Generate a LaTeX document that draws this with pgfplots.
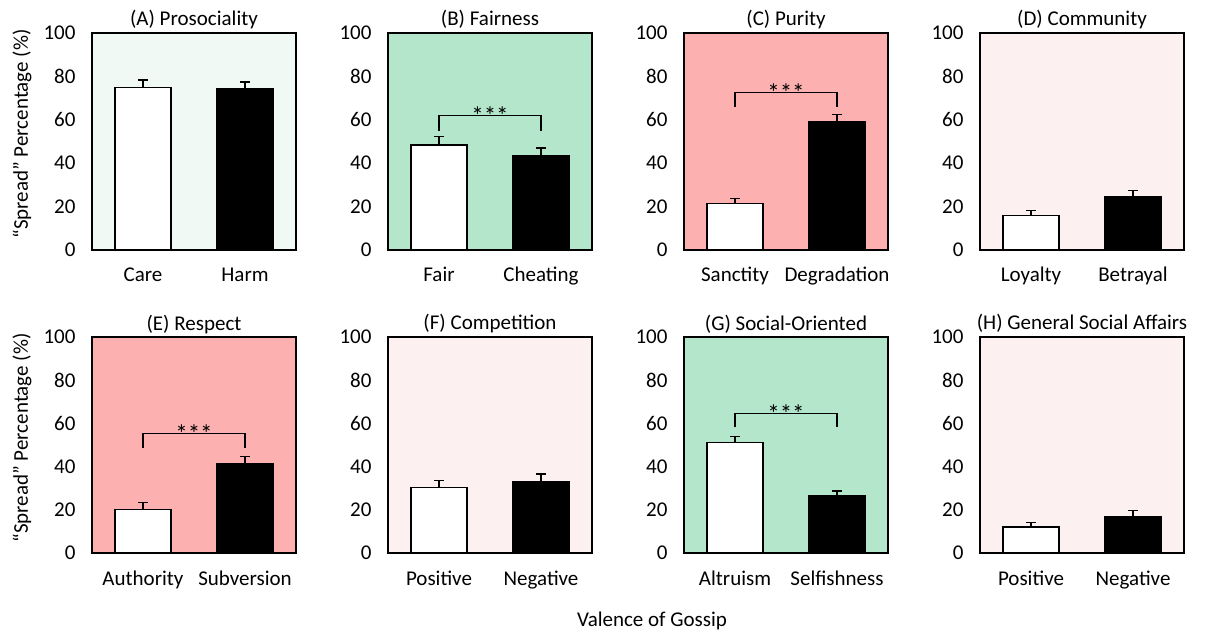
\documentclass[border=0pt]{standalone}
\usepackage{pgfplots}
\pgfplotsset{compat=1.18}
\usepackage{fontspec}
\setmainfont{Carlito}

\definecolor{bgmint}{RGB}{241,249,245}
\definecolor{bggreen}{RGB}{180,230,204}
\definecolor{bgrose}{RGB}{252,176,176}
\definecolor{bgblush}{RGB}{253,240,240}

\newcommand{\lab}{\fontsize{21}{25}\selectfont}

\pgfplotsset{
  panel/.style={
    scale only axis, width=204pt, anchor=south west,
    xmin=-0.5, xmax=1.5, ymin=0, ymax=100,
    xtick={0,1}, ytick={0,20,...,100},
    major tick length=0pt,
    axis line style={line width=1.3pt},
    /pgf/number format/assume math mode=true,
    tick label style={font=\lab},
    yticklabel style={anchor=east, xshift=-13pt},
    xticklabel style={anchor=base, yshift=-32pt},
    title style={font=\lab, anchor=base, at={(0.5,1)}, yshift=1pt},
    clip=false,
  },
  toprow/.style={panel, height=217pt},
  botrow/.style={panel, height=216pt},
  bar/.style={ybar, bar shift=0pt, bar width=0.55, draw=black, line width=1.3pt,
    error bars/y dir=plus, error bars/y explicit,
    error bars/error mark=|,
    error bars/error bar style={line width=1.3pt, black},
    error bars/error mark options={line width=1.3pt, mark size=5pt, black}},
  whitebar/.style={bar, fill=white},
  blackbar/.style={bar, fill=black},
  bracket/.style={black, line width=1.3pt, sharp plot, mark=none},
}

% two bars: white value, its error, black value, its error
\newcommand{\twobars}[4]{%
  \addplot[whitebar] coordinates {(0,#1) +- (0,#2)};
  \addplot[blackbar] coordinates {(1,#3) +- (0,#4)};
}
% significance bracket: leg bottom, bar height
\newcommand{\sig}[2]{%
  \addplot[bracket] coordinates {(0,#1) (0,#2) (1,#2) (1,#1)};
  \node[font=\fontsize{25}{28}\selectfont, anchor=base, inner sep=0pt] at (axis cs:0.5,#2) [yshift=-9pt] {***};
}

\begin{document}
\begin{tikzpicture}[x=1pt, y=1pt]
\useasboundingbox (0,0) rectangle (1206,632);

% top row
\begin{axis}[toprow, at={(92pt,382pt)}, axis background/.style={fill=bgmint},
  title={(A) Prosociality}, xticklabels={Care, Harm}]
  \twobars{75.0}{3.4}{74.2}{3.2}
\end{axis}

\begin{axis}[toprow, at={(388pt,382pt)}, axis background/.style={fill=bggreen},
  title={(B) Fairness}, xticklabels={Fair, Cheating}]
  \twobars{48.4}{3.8}{43.6}{3.4}
  \sig{55.0}{62.1}
\end{axis}

\begin{axis}[toprow, at={(684pt,382pt)}, axis background/.style={fill=bgrose},
  title={(C) Purity}, xticklabels={Sanctity, Degradation}]
  \twobars{21.3}{2.3}{59.1}{3.3}
  \sig{65.8}{72.7}
\end{axis}

\begin{axis}[toprow, at={(980pt,382pt)}, axis background/.style={fill=bgblush},
  title={(D) Community}, xticklabels={Loyalty, Betrayal}]
  \twobars{16.0}{2.3}{24.6}{2.9}
\end{axis}

% bottom row
\begin{axis}[botrow, at={(92pt,79pt)}, axis background/.style={fill=bgrose},
  title={(E) Respect}, xticklabels={Authority, Subversion}]
  \twobars{20.2}{3.1}{41.3}{3.3}
  \sig{48.5}{55.4}
\end{axis}

\begin{axis}[botrow, at={(388pt,79pt)}, axis background/.style={fill=bgblush},
  title={(F) Competition}, xticklabels={Positive, Negative}]
  \twobars{30.4}{3.2}{33.2}{3.4}
\end{axis}

\begin{axis}[botrow, at={(684pt,79pt)}, axis background/.style={fill=bggreen},
  title={(G) Social-Oriented}, xticklabels={Altruism, Selfishness}]
  \twobars{51.2}{2.8}{26.4}{2.3}
  \sig{58.2}{64.7}
\end{axis}

\begin{axis}[botrow, at={(980pt,79pt)}, axis background/.style={fill=bgblush},
  title={(H) General Social Affairs}, xticklabels={Positive, Negative}]
  \twobars{12.0}{2.2}{17.0}{2.6}
\end{axis}

% shared labels
\node[rotate=90, font=\lab] at (22,498) {“Spread” Percentage (\%)};
\node[rotate=90, font=\lab] at (22,194) {“Spread” Percentage (\%)};
\node[font=\lab, anchor=base] at (652,6) {Valence of Gossip};
\end{tikzpicture}
\end{document}
